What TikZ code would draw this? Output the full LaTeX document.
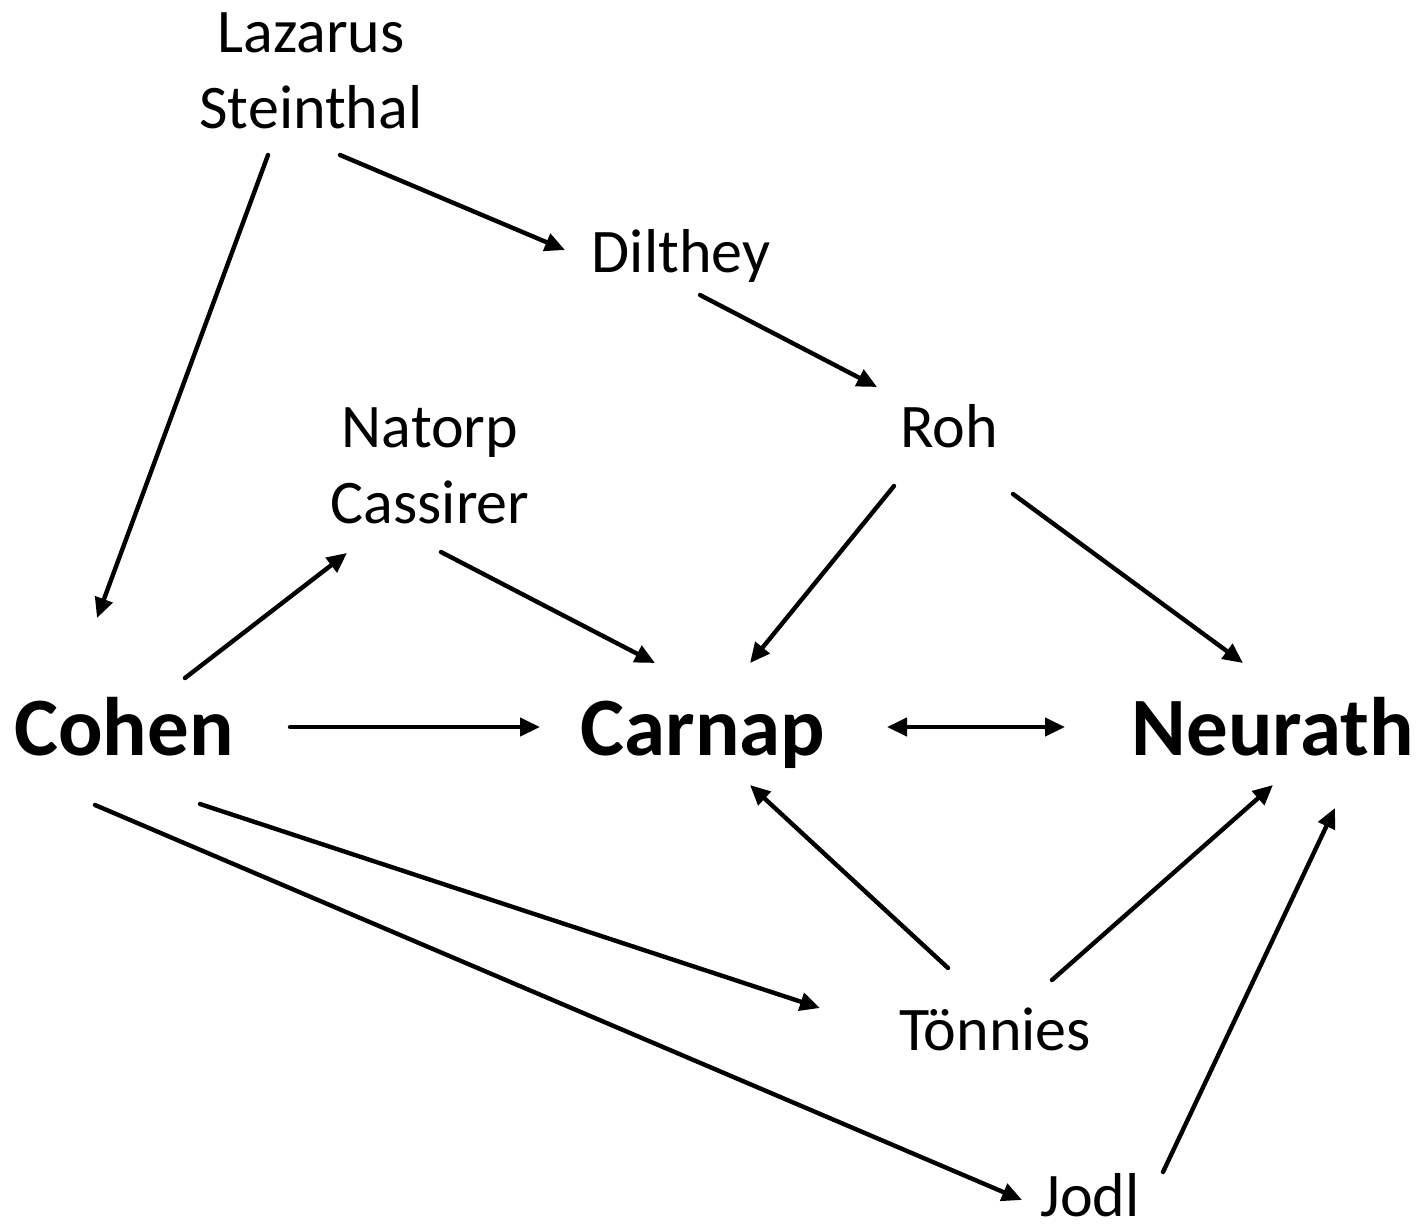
\documentclass[tikz,border=0pt]{standalone}
\usepackage{fontspec}
\setmainfont{Carlito}
\usetikzlibrary{arrows.meta}

\tikzset{
  person/.style={inner sep=0pt, anchor=base, align=center,
    font=\fontsize{31}{38}\selectfont},
  mainperson/.style={inner sep=0pt, anchor=base,
    font=\fontsize{41.5}{50}\selectfont\bfseries},
  arr/.style={line width=2.2pt, line cap=round,
    -{Triangle[length=10pt,width=9pt]}},
  biarr/.style={line width=2.2pt,
    {Triangle[length=10pt,width=9pt]}-{Triangle[length=10pt,width=9pt]}}
}

\begin{document}
\begin{tikzpicture}[x=0.5pt, y=-0.5pt]
  \useasboundingbox[fill=white] (0,0) rectangle (1425,1227);

  % people (base anchor of a two-line node is its last line)
  \node[person]     (laz) at (311,128)  {Lazarus\\Steinthal};
  \node[person]     (dil) at (681,272)  {Dilthey};
  \node[person]     (nat) at (430,523)  {Natorp\\Cassirer};
  \node[person]     (roh) at (949,447)  {Roh};
  \node[mainperson] (coh) at (124,755)  {Cohen};
  \node[mainperson] (car) at (703,755)  {Carnap};
  \node[mainperson] (neu) at (1273,755) {Neurath};
  \node[person]     (ton) at (995,1050) {Tönnies};
  \node[person]     (jod) at (1090,1216){Jodl};

  % influences
  \draw[arr] ([shift={(-43,27)}]laz.base)  -- ([shift={(-27,-137)}]coh.base);
  \draw[arr] ([shift={(29,27)}]laz.base)   -- ([shift={(-116,-22)}]dil.base);
  \draw[arr] ([shift={(19,23)}]dil.base)   -- ([shift={(-72,-60)}]roh.base);
  \draw[arr] ([shift={(61,-77)}]coh.base)  -- ([shift={(-83,30)}]nat.base);
  \draw[arr] ([shift={(11,29)}]nat.base)   -- ([shift={(-48,-92)}]car.base);
  \draw[arr] ([shift={(-55,39)}]roh.base)  -- ([shift={(47,-92)}]car.base);
  \draw[arr] ([shift={(64,47)}]roh.base)   -- ([shift={(-30,-92)}]neu.base);
  \draw[arr] ([shift={(166,-28)}]coh.base) -- ([shift={(-163,-28)}]car.base);
  \draw[biarr] ([shift={(184,-28)}]car.base) -- ([shift={(-208,-28)}]neu.base);
  \draw[arr] ([shift={(-47,-82)}]ton.base) -- ([shift={(47,30)}]car.base);
  \draw[arr] ([shift={(57,-70)}]ton.base)  -- ([shift={(0,30)}]neu.base);
  \draw[arr] ([shift={(76,49)}]coh.base)   -- ([shift={(-175,-42)}]ton.base);
  \draw[arr] ([shift={(-29,50)}]coh.base)  -- ([shift={(-68,-16)}]jod.base);
  \draw[arr] ([shift={(73,-44)}]jod.base)  -- ([shift={(62,53)}]neu.base);
\end{tikzpicture}
\end{document}
